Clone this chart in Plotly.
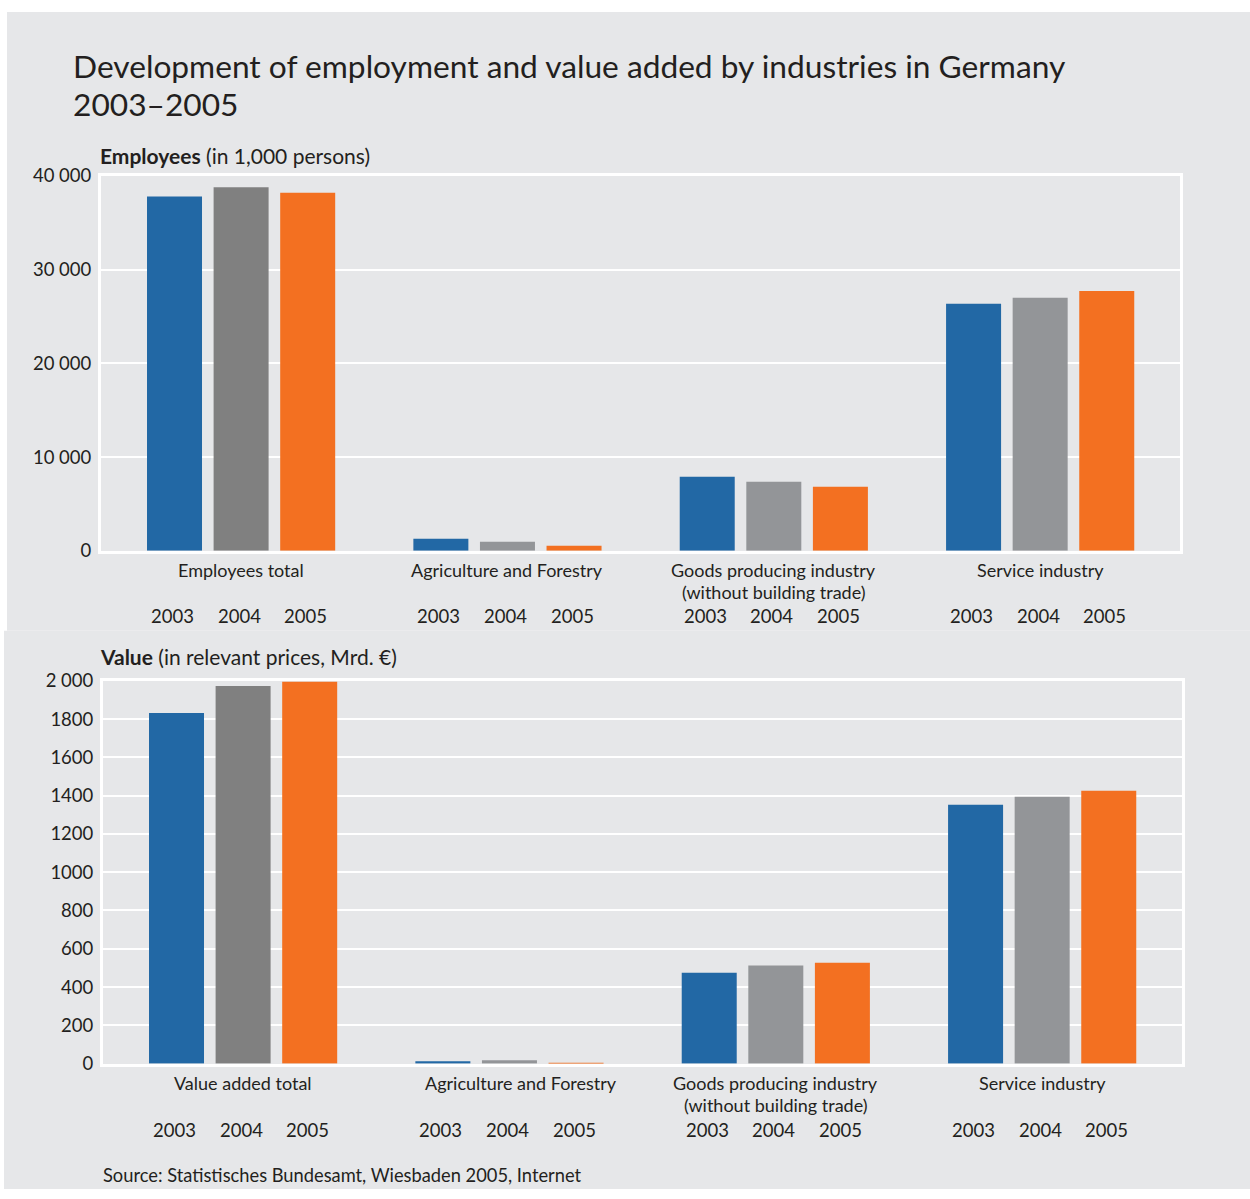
import plotly.graph_objects as go

W, H = 1250, 1199

years = ["2003", "2004", "2005"]
emp_categories = ["Employees total", "Agriculture and Forestry",
                  "Goods producing industry<br>(without building trade)", "Service industry"]
val_categories = ["Value added total", "Agriculture and Forestry",
                  "Goods producing industry<br>(without building trade)", "Service industry"]

# Employees (in 1,000 persons)
emp_2003 = [37800, 1280, 7890, 26350]
emp_2004 = [38800, 960, 7360, 26990]
emp_2005 = [38200, 530, 6830, 27730]

# Value added (Mrd. EUR)
val_2003 = [1832, 12, 475, 1352]
val_2004 = [1972, 18, 512, 1394]
val_2005 = [1995, 3, 527, 1425]

emp_ticks = [0, 10000, 20000, 30000, 40000]
emp_ticktext = ["0", "10 000", "20 000", "30 000", "40 000"]
val_ticks = [0, 200, 400, 600, 800, 1000, 1200, 1400, 1600, 1800, 2000]
val_ticktext = ["0", "200", "400", "600", "800", "1000", "1200", "1400", "1600", "1800", "2 000"]

BLUE = "#2268a5"
GRAY = "#939598"
DGRAY = "#808080"
ORANGE = "#f37021"
BG = "#e6e7e9"
TXT = "#231f20"
FONT = "Lato"

# the photographed page maps figure pixel y to picture pixel 11 + 0.982*y;
# layout positions below are given in picture pixels and converted back
def py(pix):
    fy = (pix - 11) / 0.982
    return min(1.0, max(0.0, 1 - fy / H))

def px(pix):
    return pix / W

fig = go.Figure()

cats_idx = ["c0", "c1", "c2", "c3"]
series_sets = [
    ("x", "y", [emp_2003, emp_2004, emp_2005]),
    ("x2", "y2", [val_2003, val_2004, val_2005]),
]
colors = [BLUE, GRAY, ORANGE]
for xa, ya, sets in series_sets:
    for i, (yr, vals) in enumerate(zip(years, sets)):
        if i == 1:
            mc = [DGRAY] + [GRAY] * (len(vals) - 1)
        else:
            mc = colors[i]
        fig.add_trace(go.Bar(x=cats_idx, y=vals, name=yr, marker=dict(color=mc, line=dict(width=0)),
                             xaxis=xa, yaxis=ya, offsetgroup=str(i), showlegend=False,
                             hoverinfo="skip"))

xrange_ = [-0.526, 3.525]
common_x = dict(type="category", range=xrange_, showticklabels=False, showgrid=False,
                showline=True, mirror=True, linecolor="white", linewidth=3, ticks="", zeroline=False)
common_y = dict(showgrid=True, gridcolor="white", gridwidth=2, showline=True, mirror=True,
                linecolor="white", linewidth=3, ticks="", zeroline=False,
                tickfont=dict(family=FONT, size=18.5, color=TXT), ticklabelstandoff=3)

fig.update_layout(
    width=W, height=H, autosize=False,
    margin=dict(l=0, r=0, t=0, b=0),
    paper_bgcolor="white", plot_bgcolor=BG,
    barmode="group", bargap=0.25, bargroupgap=0.174,
    xaxis=dict(domain=[px(101), px(1180)], anchor="y", **common_x),
    yaxis=dict(domain=[py(550), py(175)], anchor="x", range=[0, 40000],
               tickvals=emp_ticks, ticktext=emp_ticktext, **common_y),
    xaxis2=dict(domain=[px(103), px(1182)], anchor="y2", **common_x),
    yaxis2=dict(domain=[py(1063), py(680)], anchor="x2", range=[0, 2000],
                tickvals=val_ticks, ticktext=val_ticktext, **common_y),
    font=dict(family=FONT, color=TXT),
)

# panel backgrounds
fig.add_shape(type="rect", xref="paper", yref="paper", x0=px(7), x1=1, y0=py(630), y1=1,
              fillcolor=BG, line=dict(width=0), layer="below")
fig.add_shape(type="rect", xref="paper", yref="paper", x0=px(4), x1=1, y0=0, y1=py(630),
              fillcolor=BG, line=dict(width=0), layer="below")

ann = []
def text(x, y, s, size, xref="paper", xanchor="left", xshift=0):
    ann.append(dict(x=x, y=y, xref=xref, yref="paper", text=s, showarrow=False,
                    xanchor=xanchor, yanchor="middle", xshift=xshift,
                    font=dict(family=FONT, size=size, color=TXT), align="center"))

# title
text(px(71), py(65), "Development of employment and value added by industries in Germany", 31.7)
text(px(71), py(103), "2003\u20132005", 31.7)
text(px(98), py(155), "<b>Employees</b> (in 1,000 persons)", 21)
text(px(98), py(656), "<b>Value</b> (in relevant prices, Mrd. \u20ac)", 21)
text(px(101), py(1174), "Source: Statistisches Bundesamt, Wiesbaden 2005, Internet", 18.3)

# category labels + year labels
for xref, cats, ycat, yyear, shifts in [("x", emp_categories, 569, 615, [0, 0, 0, 0]),
                                         ("x2", val_categories, 1082, 1129, [0, 12, 0, 0])]:
    for gi, c in enumerate(cats):
        for li, line in enumerate(c.split("<br>")):
            text(gi, py(ycat + li * 22), line, 18, xref=xref, xanchor="center", xshift=shifts[gi])
        for yi, yr in enumerate(years):
            text(gi + (yi - 1) * 0.25, py(yyear), yr, 18.5, xref=xref, xanchor="center", xshift=-2)

fig.update_layout(annotations=ann)
fig.write_html("out.html",
               config={"displayModeBar": False, "responsive": False},
               post_script="var d=document.documentElement.style;d.margin='0';"
                           "document.body.style.margin='0';document.body.style.padding='0';"
                           "document.body.style.overflow='hidden';"
                           "d.backgroundColor='#e6e7e9';"
                           "d.backgroundImage='linear-gradient(#ffffff,#ffffff)';"
                           "d.backgroundRepeat='no-repeat';d.backgroundSize='100% 50%';")
